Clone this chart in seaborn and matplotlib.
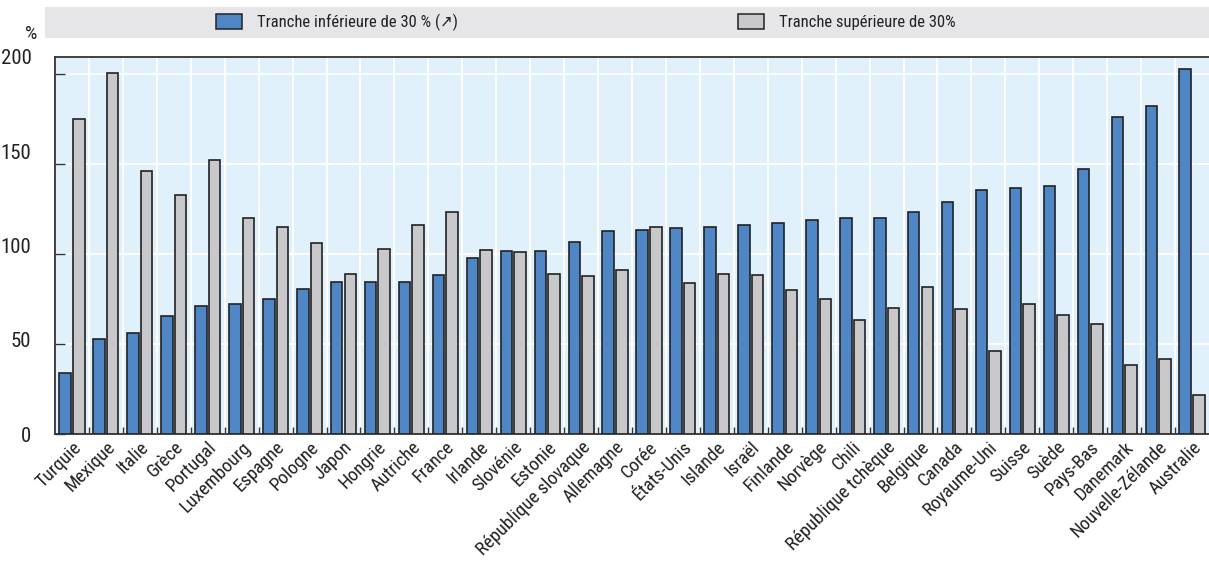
#!/usr/bin/env python3
"""Recreate the OECD bar chart: lower 30% vs upper 30% by country."""
import matplotlib
matplotlib.use("Agg")
import matplotlib.pyplot as plt
import matplotlib.patches as mpatches
from matplotlib import font_manager as fm
import numpy as np
import pandas as pd
import seaborn as sns

COUNTRIES = [
    "Turquie", "Mexique", "Italie", "Grèce", "Portugal", "Luxembourg", "Espagne",
    "Pologne", "Japon", "Hongrie", "Autriche", "France", "Irlande", "Slovénie",
    "Estonie", "République slovaque", "Allemagne", "Corée", "États-Unis", "Islande",
    "Israël", "Finlande", "Norvège", "Chili", "République tchèque", "Belgique",
    "Canada", "Royaume-Uni", "Suisse", "Suède", "Pays-Bas", "Danemark",
    "Nouvelle-Zélande", "Australie",
]
LOWER = [
    34.1, 52.6, 55.9, 65.7, 71.1, 72.2, 75.2, 80.7, 84.3, 84.4, 84.3, 88.5,
    98.0, 101.7, 101.9, 106.7, 112.9, 113.3, 114.6, 115.2, 116.1, 117.4, 118.7,
    119.8, 119.9, 123.1, 128.7, 135.4, 136.9, 138.0, 147.0, 175.9, 182.4, 202.8,
]
UPPER = [
    174.8, 200.4, 146.3, 132.6, 152.0, 120.2, 115.0, 105.9, 88.9, 102.6, 116.1,
    123.5, 102.2, 101.1, 89.1, 87.6, 91.3, 115.0, 83.9, 89.1, 88.1, 79.8, 75.2,
    63.3, 69.8, 81.5, 69.3, 46.3, 72.4, 66.3, 61.3, 38.1, 41.7, 21.5,
]
SERIES = ["Tranche inférieure de 30 % (↗)", "Tranche supérieure de 30%"]
COLORS = ["#4F86C6", "#C8C8CA"]
YTICKS = [0, 50, 100, 150, 200]


def pick_font():
    """Prefer a narrow face like the original; fall back to Roboto."""
    narrow = [f for f in fm.fontManager.ttflist
              if ("Narrow" in f.name or "Condensed" in f.name
                  or f.stretch in ("condensed", "semi-condensed", "extra-condensed"))
              and f.style == "normal"]
    for pref in ["Liberation Sans Narrow", "Roboto Condensed", "Noto Sans", "Open Sans"]:
        for f in narrow:
            if f.name == pref:
                return f.name, f.stretch
    if narrow:
        return narrow[0].name, narrow[0].stretch
    return "Roboto", "normal"


def main() -> None:
    sns.set_theme(style="white")
    family, stretch = pick_font()
    plt.rcParams["font.family"] = [family, "DejaVu Sans"]
    plt.rcParams["font.stretch"] = stretch
    plt.rcParams["text.color"] = "#222222"

    df = pd.DataFrame({
        "pays": COUNTRIES * 2,
        "valeur": LOWER + UPPER,
        "serie": [SERIES[0]] * len(COUNTRIES) + [SERIES[1]] * len(COUNTRIES),
    })

    fig = plt.figure(figsize=(12.09, 5.64), dpi=100)
    ax = fig.add_axes([55 / 1209, 1 - 434 / 564, 1 - 55 / 1209, (434 - 57) / 564])
    ax.set_facecolor("#E0F1FB")

    sns.barplot(
        data=df, x="pays", y="valeur", hue="serie", order=COUNTRIES,
        hue_order=SERIES, palette=COLORS, width=0.8, gap=0.15,
        edgecolor="#222222", linewidth=1.2, saturation=1, legend=False, ax=ax,
        zorder=3,
    )

    n = len(COUNTRIES)
    ax.set_xlim(-0.5, n - 0.5)
    ax.set_ylim(0, 209.4)
    ax.set_xlabel("")
    ax.set_ylabel("")

    # gridlines: white, horizontal at the tick values, vertical between groups
    ax.set_yticks(YTICKS)
    ax.set_yticklabels([])
    ax.set_xticks(np.arange(0.5, n - 0.5, 1), minor=True)
    ax.grid(True, axis="y", which="major", color="white", linewidth=1.3, zorder=0)
    ax.grid(True, axis="x", which="minor", color="white", linewidth=1.3, zorder=0)
    ax.set_axisbelow(True)
    ax.tick_params(axis="y", direction="in", length=7, width=1, color="#333333", left=True)
    ax.tick_params(axis="x", which="minor", direction="in", length=5, width=1,
                   color="#333333", bottom=True)
    ax.tick_params(axis="x", which="major", length=0, pad=3)
    ax.set_xticks(range(n))
    ax.set_xticklabels(COUNTRIES, rotation=45, ha="right", rotation_mode="anchor",
                       fontsize=13.5, color="#222222")

    for side in ["left", "top", "bottom"]:
        ax.spines[side].set_visible(True)
        ax.spines[side].set_color("#333333")
        ax.spines[side].set_linewidth(1.3)
    ax.spines["right"].set_visible(False)

    # value labels drawn on their own scale, as in the original
    lab = ax.twinx()
    lab.set_ylim(0, 200)
    lab.set_yticks(YTICKS)
    lab.yaxis.set_ticks_position("left")
    lab.tick_params(axis="y", length=0, pad=17, labelsize=15, labelcolor="#222222")
    for s in lab.spines.values():
        s.set_visible(False)

    fig.text(31 / 1209, 1 - 39 / 564, "%", fontsize=14, ha="center", va="baseline")

    # legend band
    fig.patches.append(mpatches.Rectangle(
        (45 / 1209, 1 - 38 / 564), 1 - 45 / 1209, 31 / 564,
        transform=fig.transFigure, facecolor="#E6E6E8", edgecolor="none", zorder=0))
    handles = [mpatches.Patch(facecolor=c, edgecolor="#222222", linewidth=1.1)
               for c in COLORS]
    fig.legend(handles, SERIES, loc="center", bbox_to_anchor=(586 / 1209, 1 - 22.5 / 564),
               ncol=2, frameon=False, fontsize=12, handlelength=1.55, handleheight=0.95,
               handletextpad=0.9, columnspacing=16.8)

    fig.savefig("out.png", dpi=100)
    plt.close(fig)


if __name__ == "__main__":
    main()
